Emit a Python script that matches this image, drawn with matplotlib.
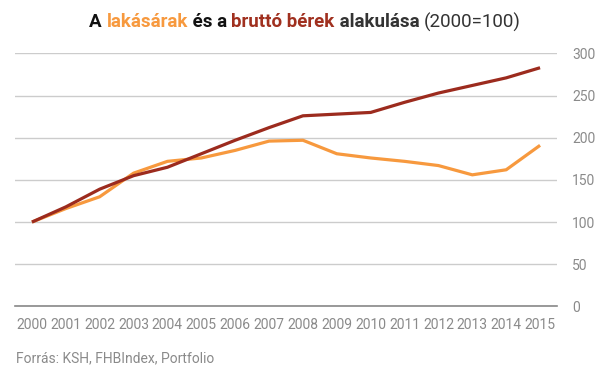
import matplotlib
matplotlib.use("Agg")
import matplotlib.pyplot as plt
import numpy as np

plt.rcParams["font.family"] = ["Roboto", "DejaVu Sans"]

years = list(range(2000, 2016))
lakasarak = [100, 116, 130, 158, 172, 176, 185, 196, 197, 181, 176, 172, 167, 156, 162, 191]
berek = [100, 118, 139, 155, 165, 181, 197, 212, 226, 228, 230, 242, 253, 262, 271, 283]
y_ticks = [0, 50, 100, 150, 200, 250, 300]

orange = "#f7993e"
darkred = "#9c2b1e"
gray = "#8a8a8a"

fig = plt.figure(figsize=(6.07, 3.8), dpi=100)
ax = fig.add_axes([15 / 607, 1 - 306.4 / 380, 542 / 607, 253 / 380])

x = np.arange(len(years))
ax.plot(x, lakasarak, color=orange, lw=2.3, solid_capstyle="butt", zorder=3)
ax.plot(x, berek, color=darkred, lw=2.3, solid_capstyle="butt", zorder=4)

ax.set_xlim(-0.5, len(years) - 0.5)
ax.set_ylim(0, 300)
ax.set_yticks(y_ticks)
ax.set_xticks(x)
ax.set_xticklabels([str(y) for y in years])
ax.yaxis.tick_right()
ax.tick_params(axis="y", length=0, pad=11, labelsize=10, labelcolor=gray)
ax.tick_params(axis="x", length=0, pad=8, labelsize=10, labelcolor=gray)
for lab in ax.get_yticklabels():
    lab.set_horizontalalignment("left")

ax.grid(axis="y", color="#cccccc", lw=1)
ax.set_axisbelow(True)
for s in ["top", "right", "left"]:
    ax.spines[s].set_visible(False)
ax.spines["bottom"].set_color("#888888")
ax.spines["bottom"].set_linewidth(1.2)

# title built from coloured pieces
parts = [
    ("A ", "#111111", "bold"),
    ("lakásárak", orange, "bold"),
    (" és a ", "#111111", "bold"),
    ("bruttó bérek", "#a0301f", "bold"),
    (" alakulása ", "#333333", "bold"),
    ("(2000=100)", "#333333", "normal"),
]
fig.canvas.draw()
renderer = fig.canvas.get_renderer()
texts = []
total = 0
for s, c, w in parts:
    t = fig.text(0, 1 - 22 / 380, s, color=c, fontweight=w, fontsize=13.5, va="center", ha="left")
    bb = t.get_window_extent(renderer)
    texts.append((t, bb.width))
    total += bb.width
xpos = 305 - total / 2
for t, wdt in texts:
    t.set_x(xpos / 607)
    xpos += wdt

fig.text(16 / 607, 1 - 358 / 380, "Forrás: KSH, FHBIndex, Portfolio", color=gray, fontsize=10, va="center", ha="left")

fig.savefig("out.png", dpi=100)
